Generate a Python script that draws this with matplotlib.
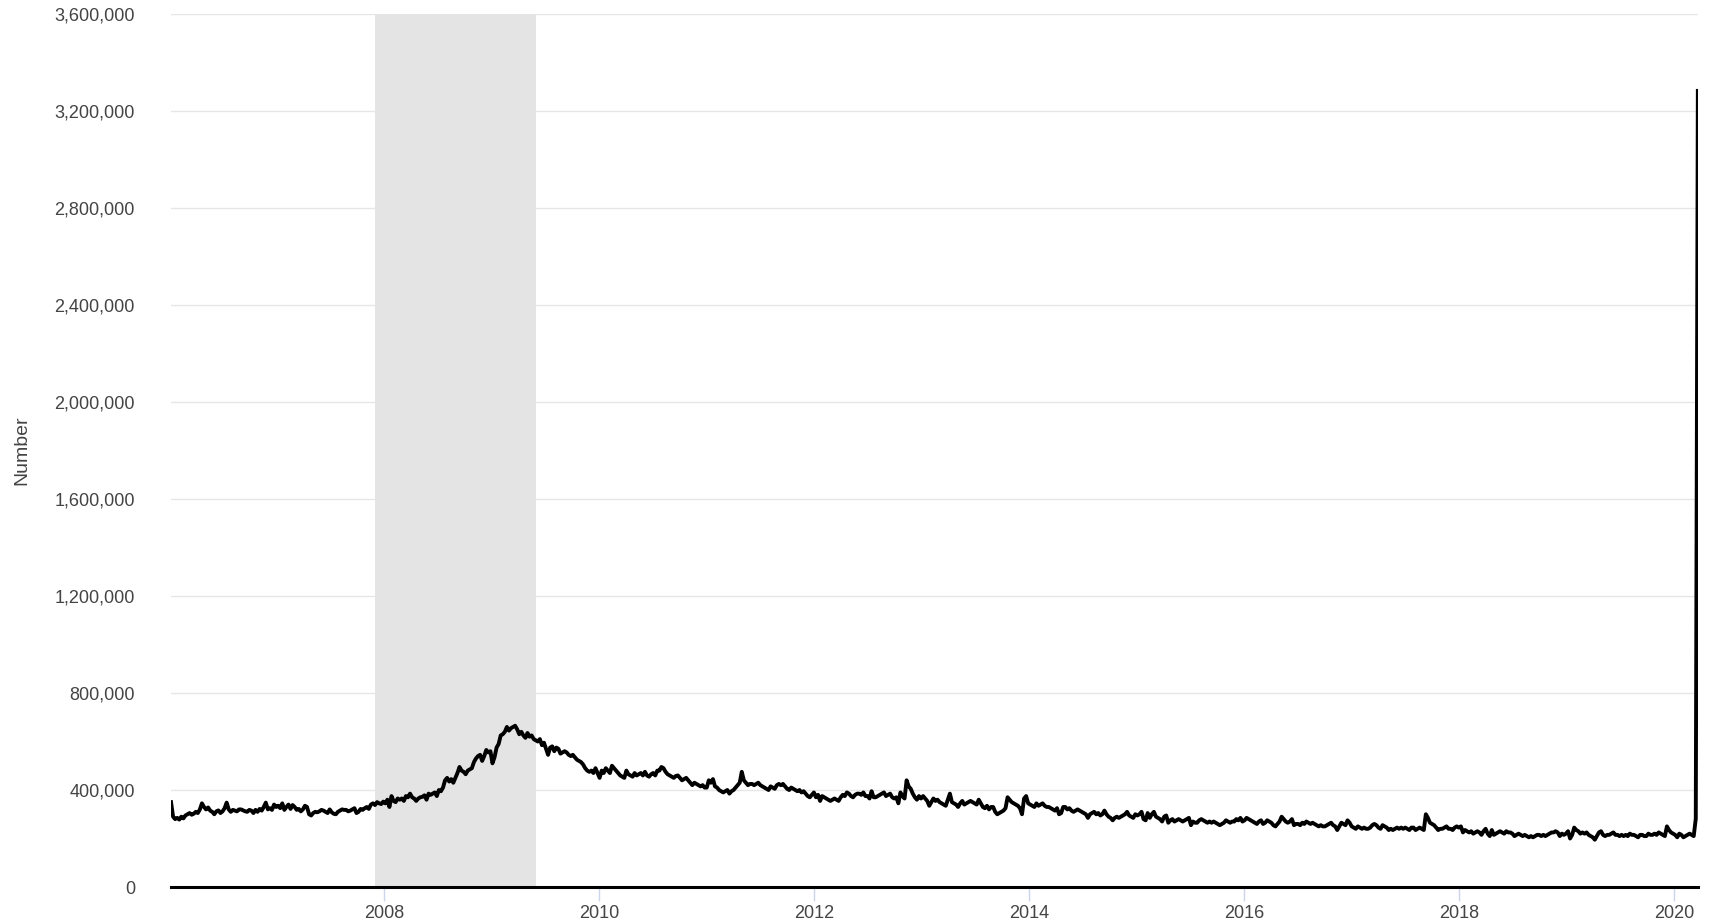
import numpy as np
import pandas as pd
import matplotlib.pyplot as plt
from matplotlib.ticker import FuncFormatter
import matplotlib.dates as mdates

# weekly initial claims, thousands, week ending Saturday
claims_2006 = [350, 290, 280, 285, 278, 290, 283, 295, 300, 305, 298, 302, 310, 305, 320, 345,
               330, 320, 328, 315, 310, 300, 312, 316, 305, 312, 325, 348, 320, 310, 318, 315,
               312, 320, 320, 316, 312, 310, 318, 315, 305, 318, 310, 322, 315, 330, 348, 320,
               325, 318, 340, 330]
claims_2007 = [335, 325, 345, 318, 330, 340, 322, 338, 330, 318, 322, 312, 320, 335, 330, 300,
               295, 305, 310, 308, 312, 318, 315, 310, 305, 320, 308, 302, 300, 310, 315, 320,
               318, 318, 312, 315, 320, 325, 305, 310, 322, 318, 325, 330, 322, 340, 345, 338,
               350, 345, 342, 352]
claims_2008 = [345, 360, 330, 375, 355, 350, 365, 360, 365, 355, 375, 370, 385, 370, 365, 355,
               365, 370, 372, 378, 360, 385, 380, 385, 390, 375, 400, 395, 410, 440, 450, 435,
               445, 430, 450, 470, 495, 480, 475, 465, 480, 485, 490, 515, 530, 540, 545, 520,
               540, 565, 555, 560]
claims_2009 = [510, 535, 575, 590, 625, 630, 640, 660, 645, 655, 660, 665, 650, 630, 640, 625,
               615, 635, 620, 625, 610, 605, 600, 610, 585, 595, 570, 545, 575, 580, 560, 575,
               570, 550, 555, 560, 555, 545, 540, 545, 535, 525, 520, 515, 505, 490, 480, 475,
               480, 470, 490, 470]
claims_2010 = [450, 480, 470, 490, 480, 470, 500, 490, 480, 470, 460, 455, 450, 480, 465, 460,
               455, 470, 460, 465, 470, 460, 475, 460, 455, 465, 470, 460, 480, 480, 495, 490,
               475, 465, 460, 455, 450, 458, 460, 450, 440, 445, 450, 440, 430, 420, 430, 425,
               420, 415, 420, 410]
claims_2011 = [410, 440, 430, 445, 415, 410, 400, 395, 390, 395, 400, 385, 395, 400, 410, 420,
               430, 475, 440, 430, 420, 425, 425, 420, 425, 430, 420, 415, 410, 405, 400, 415,
               410, 405, 420, 425, 420, 425, 415, 405, 400, 410, 405, 400, 395, 400, 390, 395,
               385, 375, 370, 380, 390]
claims_2012 = [370, 380, 355, 375, 370, 365, 360, 355, 360, 365, 360, 355, 370, 380, 375, 390,
               385, 375, 370, 380, 385, 385, 380, 390, 375, 375, 365, 395, 370, 370, 375, 380,
               385, 390, 375, 380, 385, 370, 365, 370, 345, 390, 375, 365, 440, 415, 405, 385,
               370, 360, 375, 365]
claims_2013 = [375, 365, 355, 335, 350, 365, 355, 360, 350, 345, 340, 335, 360, 385, 350, 345,
               340, 330, 345, 355, 340, 345, 350, 355, 350, 345, 340, 360, 345, 330, 325, 335,
               320, 330, 330, 310, 300, 305, 310, 315, 325, 370, 360, 350, 345, 340, 335, 325,
               300, 365, 375, 345]
claims_2014 = [340, 335, 330, 345, 335, 340, 345, 335, 330, 330, 325, 320, 315, 325, 300, 305,
               330, 330, 320, 325, 315, 310, 315, 320, 315, 310, 305, 300, 285, 300, 305, 310,
               300, 305, 295, 300, 315, 300, 290, 285, 275, 285, 290, 285, 290, 295, 300, 310,
               295, 290, 285, 300]
claims_2015 = [295, 300, 310, 280, 275, 305, 285, 300, 310, 290, 285, 280, 270, 290, 295, 265,
               275, 280, 270, 275, 280, 275, 270, 275, 280, 285, 255, 270, 265, 265, 275, 280,
               275, 270, 265, 270, 265, 270, 265, 260, 255, 260, 265, 275, 270, 265, 270, 270,
               280, 275, 285, 270]
claims_2016 = [275, 285, 280, 275, 270, 265, 260, 270, 275, 260, 265, 275, 270, 265, 255, 250,
               260, 270, 290, 280, 270, 265, 270, 280, 255, 260, 260, 255, 265, 260, 270, 265,
               260, 265, 260, 255, 250, 255, 250, 250, 255, 260, 265, 255, 250, 235, 250, 265,
               260, 255, 275, 265, 250]
claims_2017 = [245, 240, 250, 245, 240, 245, 240, 240, 245, 255, 260, 255, 245, 240, 255, 250,
               245, 235, 240, 235, 240, 245, 240, 245, 240, 245, 240, 235, 245, 245, 235, 240,
               245, 240, 235, 300, 285, 265, 260, 255, 245, 235, 240, 240, 245, 250, 240, 240,
               235, 245, 250, 245]
claims_2018 = [250, 225, 235, 230, 225, 230, 220, 225, 230, 225, 215, 230, 240, 220, 210, 235,
               215, 220, 225, 230, 225, 220, 230, 225, 225, 220, 210, 215, 220, 215, 210, 215,
               210, 205, 210, 205, 210, 215, 215, 210, 215, 210, 215, 220, 225, 225, 230, 225,
               210, 220, 215, 220]
claims_2019 = [230, 200, 215, 245, 235, 230, 220, 225, 220, 225, 215, 210, 205, 195, 210, 225,
               230, 215, 210, 215, 215, 220, 225, 215, 215, 210, 215, 210, 215, 210, 220, 215,
               215, 210, 205, 215, 215, 210, 210, 220, 215, 215, 220, 215, 225, 220, 215, 210,
               250, 235, 225, 220]
claims_2020 = [215, 205, 220, 215, 205, 210, 215, 220, 215, 210, 282, 3283]

recession_start = "2007-12-01"
recession_end = "2009-06-01"

claims = np.concatenate([claims_2006, claims_2007, claims_2008, claims_2009, claims_2010,
                         claims_2011, claims_2012, claims_2013, claims_2014, claims_2015,
                         claims_2016, claims_2017, claims_2018, claims_2019, claims_2020]) * 1000
weeks = pd.date_range("2006-01-07", periods=len(claims), freq="W-SAT")

plt.rcParams['font.family'] = ['Liberation Sans', 'DejaVu Sans']
txt = '#444444'

fig = plt.figure(figsize=(17.12, 9.23), dpi=100)
ax = fig.add_axes([0.0999, 0.039, 0.892, 0.9458])

ax.axvspan(pd.Timestamp(recession_start), pd.Timestamp(recession_end), color='#e4e4e4', zorder=1, lw=0)
ax.plot(weeks, claims, color='black', lw=2.8, zorder=3)

ax.set_ylim(0, 3600000)
ax.set_xlim(weeks[0], weeks[-1] + pd.Timedelta(days=1))
ax.set_yticks(np.arange(0, 3600001, 400000))
ax.yaxis.set_major_formatter(FuncFormatter(lambda v, p: f"{int(v):,}"))
ax.xaxis.set_major_locator(mdates.YearLocator(2))
ax.xaxis.set_major_formatter(mdates.DateFormatter('%Y'))

ax.grid(axis='y', color='#e6e6e6', lw=1)
ax.set_axisbelow(True)
for s in ['top', 'right', 'left']:
    ax.spines[s].set_visible(False)
ax.spines['bottom'].set_color('black')
ax.spines['bottom'].set_linewidth(2.2)
ax.spines['bottom'].set_zorder(4)

ax.tick_params(axis='y', length=0, pad=26, labelsize=13, labelcolor=txt)
ax.tick_params(axis='x', length=10, width=1, color='#ccd6eb', pad=3, labelsize=13, labelcolor=txt)
ax.set_ylabel('Number', fontsize=14, color=txt, labelpad=0)
ax.yaxis.set_label_coords(-0.092, 0.5)

fig.savefig("out.png", dpi=100)
